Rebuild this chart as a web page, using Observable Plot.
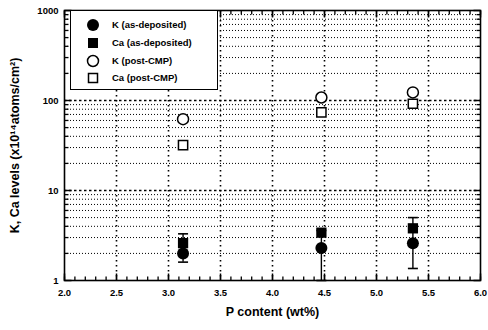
<!DOCTYPE html>
<html><head><meta charset="utf-8">
<script src="https://cdn.jsdelivr.net/npm/d3@7"></script>
<script src="https://cdn.jsdelivr.net/npm/@observablehq/plot@0.6"></script>
<style>
body{margin:0;background:#fff}
#wrap{position:relative;width:488px;height:330px;font-family:"Liberation Sans",Arial,sans-serif}
#legend{position:absolute;left:70px;top:10px;width:148px;height:80px;border:1.5px solid #000;background:#fff;box-sizing:border-box}
</style>
</head><body><div id="wrap"><div id="chart"></div><div id="legend"></div></div>
<script>
// Data
const pContent = [3.14, 4.47, 5.35];
const kAsDep  = [2.0, 2.3, 2.6];
const caAsDep = [2.6, 3.4, 3.8];
const kPost   = [62, 108, 123];
const caPost  = [32, 74, 92];
const errLow  = [1.6, 1.0, 1.36];
const errHigh = [3.3, 3.6, 5.0];

const xTickLabels = [2.0, 2.5, 3.0, 3.5, 4.0, 4.5, 5.0, 5.5, 6.0];
const yTickLabels = [1, 10, 100, 1000];
const seriesNames = ["K (as-deposited)", "Ca (as-deposited)", "K (post-CMP)", "Ca (post-CMP)"];

const xMinor = d3.range(20, 61).map(d => d / 10);
const xGrid = xTickLabels.slice(1, -1);
const yMinor = [1, 10, 100].flatMap(b => d3.range(2, 10).map(m => m * b));
const yDecadeGrid = [10, 100];

const rows = pContent.map((x, i) => ({x, kA: kAsDep[i], cA: caAsDep[i], kP: kPost[i], cP: caPost[i], lo: errLow[i], hi: errHigh[i]}));

const vTick = L => ({draw(ctx){ctx.moveTo(0,0);ctx.lineTo(0,-L);}});
const vTickDown = L => ({draw(ctx){ctx.moveTo(0,0);ctx.lineTo(0,L);}});
const hTickR = L => ({draw(ctx){ctx.moveTo(0,0);ctx.lineTo(L,0);}});
const hTickL = L => ({draw(ctx){ctx.moveTo(0,0);ctx.lineTo(-L,0);}});
const cap = {draw(ctx){ctx.moveTo(-5,0);ctx.lineTo(5,0);}};

const decades = [1,10,100,1000];

const chart = Plot.plot({
  width: 488, height: 330,
  marginLeft: 64, marginRight: 8, marginTop: 10, marginBottom: 50,
  style: {fontFamily: "Liberation Sans, Arial, sans-serif", fontSize: "9px", fontWeight: "bold", background: "#fff"},
  x: {domain: [2, 6]},
  y: {type: "log", domain: [1, 1000]},
  marks: [
    Plot.ruleY(yMinor, {y: d => d, stroke: "#000", strokeWidth: 1, strokeDasharray: "1,2"}),
    Plot.ruleY(yDecadeGrid, {y: d => d, stroke: "#000", strokeWidth: 1.6, strokeDasharray: "2.5,2.5"}),
    Plot.ruleX(xGrid, {x: d => d, stroke: "#000", strokeWidth: 1.6, strokeDasharray: "1.6,3.4"}),
    // inward ticks
    Plot.dot(xMinor, {x: d => d, frameAnchor: "bottom", symbol: vTick(4), stroke: "#000", strokeWidth: 1.3}),
    Plot.dot(xTickLabels, {x: d => d, frameAnchor: "bottom", symbol: vTick(7), stroke: "#000", strokeWidth: 1.5}),
    Plot.dot(xMinor, {x: d => d, frameAnchor: "top", symbol: vTickDown(4), stroke: "#000", strokeWidth: 1.3}),
    Plot.dot(xTickLabels, {x: d => d, frameAnchor: "top", symbol: vTickDown(7), stroke: "#000", strokeWidth: 1.5}),
    Plot.dot(yMinor, {y: d => d, frameAnchor: "left", symbol: hTickR(4), stroke: "#000", strokeWidth: 1.3}),
    Plot.dot(decades, {y: d => d, frameAnchor: "left", symbol: hTickR(7), stroke: "#000", strokeWidth: 1.5}),
    Plot.dot(yMinor, {y: d => d, frameAnchor: "right", symbol: hTickL(4), stroke: "#000", strokeWidth: 1.3}),
    Plot.dot(decades, {y: d => d, frameAnchor: "right", symbol: hTickL(7), stroke: "#000", strokeWidth: 1.5}),
    Plot.frame({stroke: "#000", strokeWidth: 1.6}),
    // error bars
    Plot.ruleX(rows, {x: "x", y1: "lo", y2: "hi", stroke: "#000", strokeWidth: 1.4}),
    Plot.dot(rows, {x: "x", y: "lo", symbol: cap, stroke: "#000", strokeWidth: 1.6}),
    Plot.dot(rows, {x: "x", y: "hi", symbol: cap, stroke: "#000", strokeWidth: 1.6}),
    // data
    Plot.dot(rows, {x: "x", y: "cA", symbol: "square", r: 5.8, fill: "#000"}),
    Plot.dot(rows, {x: "x", y: "kA", symbol: "circle", r: 6, fill: "#000"}),
    Plot.dot(rows, {x: "x", y: "kP", symbol: "circle", r: 5.5, fill: "#fff", stroke: "#000", strokeWidth: 1.5}),
    Plot.dot(rows, {x: "x", y: "cP", symbol: "square", r: 5.2, fill: "#fff", stroke: "#000", strokeWidth: 1.5}),
    // axes
    Plot.axisX({ticks: xTickLabels, tickFormat: d3.format(".1f"), tickSize: 0, tickPadding: 9, label: null, fontSize: 9.5, fontWeight: "bold"}),
    Plot.axisY({ticks: yTickLabels, tickFormat: d => String(d), tickSize: 0, tickPadding: 6, label: null, fontSize: 9.5, fontWeight: "bold"}),
    Plot.text(["P content (wt%)"], {frameAnchor: "bottom", dy: 35, fontSize: 12.5, fontWeight: "bold", fill: "#000"}),
    Plot.text(["K, Ca levels (x10\u00B9\u2074atoms/cm\u00B2)"], {frameAnchor: "left", textAnchor: "middle", dx: -50, rotate: -90, fontSize: 12.5, fontWeight: "bold", fill: "#000"})
  ]
});
document.getElementById("chart").appendChild(chart);

// Legend inside plot area
const syms = [
  s => s.append("circle").attr("r", 6).attr("fill", "#000"),
  s => s.append("rect").attr("x", -5).attr("y", -5).attr("width", 10).attr("height", 10).attr("fill", "#000"),
  s => s.append("circle").attr("r", 5.5).attr("fill", "#fff").attr("stroke", "#000").attr("stroke-width", 1.5),
  s => s.append("rect").attr("x", -4.5).attr("y", -4.5).attr("width", 9).attr("height", 9).attr("fill", "#fff").attr("stroke", "#000").attr("stroke-width", 1.5)
];
const lg = d3.select("#legend").append("svg").attr("width", 146).attr("height", 78);
const rowY = [14, 32, 50, 67];
seriesNames.forEach((name, i) => {
  const g = lg.append("g").attr("transform", `translate(22,${rowY[i]})`);
  syms[i](g);
  lg.append("text").attr("x", 41).attr("y", rowY[i]).attr("dy", "0.35em")
    .attr("font-family", "Liberation Sans, Arial, sans-serif").attr("font-size", 9.5).attr("font-weight", "bold")
    .text(name);
});
</script>
</body></html>
